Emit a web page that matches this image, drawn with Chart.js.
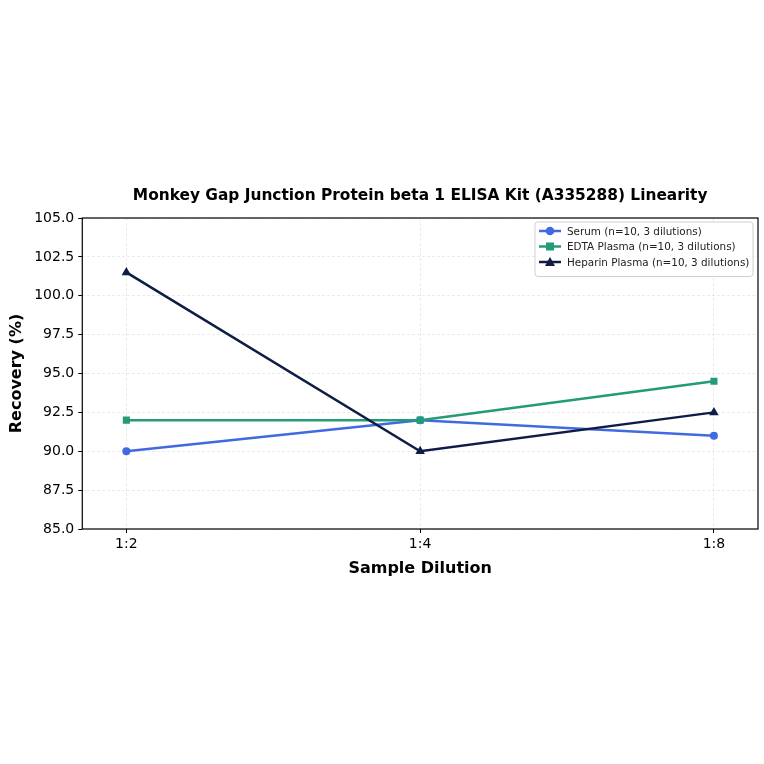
<!DOCTYPE html>
<html>
<head>
<meta charset="utf-8">
<script src="https://cdn.jsdelivr.net/npm/chart.js@4/dist/chart.umd.min.js"></script>
<style>
  html, body { margin: 0; padding: 0; background: #fff; }
  canvas { display: block; }
</style>
</head>
<body>
<canvas id="c" width="764" height="764"></canvas>
<script>
const dilutions = ['1:2', '1:4', '1:8'];
const serum = [90.0, 92.0, 91.0];
const edta = [92.0, 92.0, 94.5];
const heparin = [101.5, 90.0, 92.5];
const yTicks = [85, 87.5, 90, 92.5, 95, 97.5, 100, 102.5, 105];

const FONT = "'DejaVu Sans', sans-serif";
const TITLE = 'Monkey Gap Junction Protein beta 1 ELISA Kit (A335288) Linearity';

const toPoints = arr => arr.map((v, i) => ({ x: i, y: v }));

// frame, title centred over the plot, legend box inside top-right
const framePlugin = {
  id: 'frame',
  afterDraw(chart) {
    const { ctx, chartArea: a } = chart;
    ctx.save();
    ctx.strokeStyle = '#000';
    ctx.lineWidth = 1.2;
    ctx.strokeRect(a.left, a.top, a.right - a.left, a.bottom - a.top);

    ctx.fillStyle = '#000';
    ctx.font = 'bold 15.4px ' + FONT;
    ctx.textAlign = 'center';
    ctx.textBaseline = 'middle';
    ctx.fillText(TITLE, (a.left + a.right) / 2, a.top - 22);
    ctx.textAlign = 'left';

    const sets = chart.data.datasets;
    const boxW = 218, rowH = 15.5, boxH = sets.length * rowH + 8;
    const bx = a.right - boxW - 5, by = a.top + 4;
    ctx.fillStyle = 'rgba(255,255,255,0.85)';
    ctx.strokeStyle = '#d0d0d0';
    ctx.lineWidth = 1;
    ctx.beginPath();
    ctx.roundRect(bx, by, boxW, boxH, 3);
    ctx.fill();
    ctx.stroke();
    ctx.font = '10.4px ' + FONT;
    sets.forEach((ds, i) => {
      const y = by + 9 + i * rowH;
      ctx.strokeStyle = ds.borderColor;
      ctx.lineWidth = 2.5;
      ctx.beginPath();
      ctx.moveTo(bx + 4, y);
      ctx.lineTo(bx + 26, y);
      ctx.stroke();
      ctx.fillStyle = ds.borderColor;
      const cx = bx + 15;
      ctx.beginPath();
      if (ds.pointStyle === 'rect') {
        ctx.rect(cx - 4, y - 4, 8, 8);
      } else if (ds.pointStyle === 'triangle') {
        ctx.moveTo(cx, y - 5); ctx.lineTo(cx + 5, y + 4); ctx.lineTo(cx - 5, y + 4); ctx.closePath();
      } else {
        ctx.arc(cx, y, 4.3, 0, Math.PI * 2);
      }
      ctx.fill();
      ctx.fillStyle = '#222';
      ctx.fillText(ds.label, bx + 32, y + 1);
    });
    ctx.restore();
  }
};

new Chart(document.getElementById('c'), {
  type: 'line',
  data: {
    datasets: [
      { label: 'Serum (n=10, 3 dilutions)', data: toPoints(serum), borderColor: '#4169e1', backgroundColor: '#4169e1', pointStyle: 'circle', pointRadius: 4, order: 3 },
      { label: 'EDTA Plasma (n=10, 3 dilutions)', data: toPoints(edta), borderColor: '#239b78', backgroundColor: '#239b78', pointStyle: 'rect', pointRadius: 5, order: 2 },
      { label: 'Heparin Plasma (n=10, 3 dilutions)', data: toPoints(heparin), borderColor: '#0f1c45', backgroundColor: '#0f1c45', pointStyle: 'triangle', pointRadius: 5.5, order: 1 }
    ].map(d => Object.assign({ borderWidth: 2.5, tension: 0, pointBorderWidth: 0 }, d))
  },
  options: {
    responsive: false,
    animation: false,
    layout: { padding: { top: 218, bottom: 182, left: 3, right: 6 } },
    plugins: {
      legend: { display: false },
      tooltip: { enabled: false },
      title: { display: false }
    },
    scales: {
      x: {
        type: 'linear',
        min: -0.15,
        max: 2.15,
        afterBuildTicks: s => { s.ticks = dilutions.map((_, i) => ({ value: i })); },
        ticks: { color: '#000', font: { family: FONT, size: 14 }, callback: v => dilutions[v], padding: 3 },
        grid: { color: 'rgba(0,0,0,0.08)', tickColor: '#000', tickLength: 4, tickBorderDash: [] },
        border: { display: false, dash: [3, 2] },
        title: { display: true, text: 'Sample Dilution', color: '#000', font: { family: FONT, size: 16, weight: 'bold' }, padding: { top: 3 } }
      },
      y: {
        min: 85,
        max: 105,
        afterBuildTicks: s => { s.ticks = yTicks.map(v => ({ value: v })); },
        ticks: { color: '#000', font: { family: FONT, size: 14 }, callback: v => v.toFixed(1), padding: 4 },
        grid: { color: 'rgba(0,0,0,0.08)', tickColor: '#000', tickLength: 4, tickBorderDash: [] },
        border: { display: false, dash: [3, 2] },
        title: { display: true, text: 'Recovery (%)', color: '#000', font: { family: FONT, size: 16, weight: 'bold' }, padding: { bottom: 4 } }
      }
    }
  },
  plugins: [framePlugin]
});
</script>
</body>
</html>
